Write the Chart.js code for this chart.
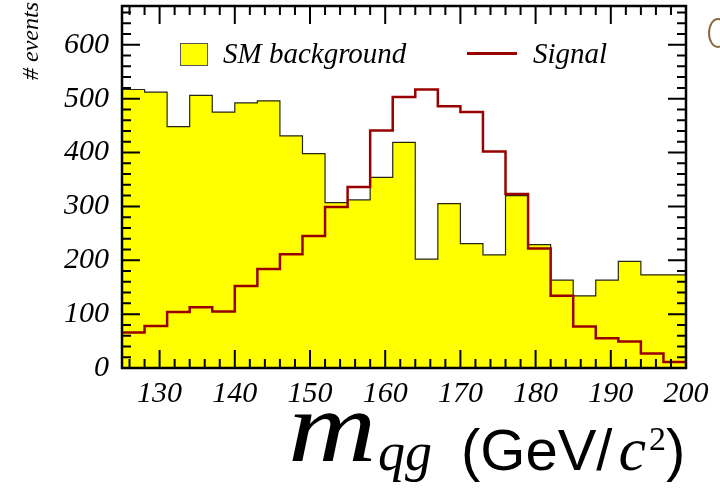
<!DOCTYPE html>
<html>
<head>
<meta charset="utf-8">
<script src="https://cdn.jsdelivr.net/npm/chart.js@4.4.0/dist/chart.umd.min.js"></script>
<style>
  html, body { margin: 0; padding: 0; background: #fff; }
  #wrap { position: relative; width: 720px; height: 491px; overflow: hidden; }
  #c { position: absolute; left: 0; top: 0; }
  .lab { position: absolute; font-family: "Liberation Serif", serif; font-style: italic; color: #000; white-space: nowrap; line-height: 1; }
  #ytitle { left: 30px; top: 41px; font-size: 24px; transform: translate(-50%, -50%) rotate(-90deg); }
  #leg1box { position: absolute; left: 180px; top: 43px; width: 26px; height: 21px; background: #ffff00; border: 1px solid #555; }
  #leg1 { left: 223px; top: 39px; font-size: 29px; }
  #leg2line { position: absolute; left: 467px; top: 52px; width: 50px; height: 2.5px; background: #990000; }
  #leg2 { left: 533px; top: 39px; font-size: 29px; }
  .xt { position: absolute; white-space: nowrap; color: #000; line-height: 1; }
  #xm { left: 288px; top: 376px; font-family: "Liberation Serif", serif; font-style: italic; font-size: 102px; transform: scaleX(1.2); transform-origin: left top; }
  #xqg { left: 378px; top: 425px; font-family: "Liberation Serif", serif; font-style: italic; font-size: 54px; }
  #xunit { left: 461px; top: 418px; font-family: "Liberation Sans", sans-serif; font-size: 58px; }
  #xunit .c { font-family: "Liberation Serif", serif; font-style: italic; font-size: 62px; margin: 0 3px 0 6px; }
  #xunit sup { font-family: "Liberation Serif", serif; font-size: 34px; line-height: 0; }
  #logo { position: absolute; left: 708px; top: 18px; width: 16px; height: 26px; border: 2px solid #8a6a3a; border-radius: 50%; }
</style>
</head>
<body>
<div id="wrap">
  <canvas id="c" width="720" height="491"></canvas>
  <div id="ytitle" class="lab"># events</div>
  <div id="leg1box"></div>
  <div id="leg1" class="lab">SM background</div>
  <div id="leg2line"></div>
  <div id="leg2" class="lab">Signal</div>
  <div id="xm" class="xt">m</div>
  <div id="xqg" class="xt">qg</div>
  <div id="xunit" class="xt">(GeV/<span class="c">c</span><sup>2</sup>)</div>
  <div id="logo"></div>
</div>
<script>
// bin edges in GeV/c^2 (25 bins)
const binEdges = [125, 128, 131, 134, 137, 140, 143, 146, 149, 152, 155, 158, 161, 164, 167, 170, 173, 176, 179, 182, 185, 188, 191, 194, 197, 200];
const background = [517, 512, 448, 506, 475, 492, 496, 431, 398, 307, 312, 354, 419, 202, 305, 231, 210, 320, 229, 163, 134, 163, 198, 173, 173];
const signal = [66, 78, 104, 113, 105, 152, 184, 211, 245, 299, 336, 441, 503, 517, 486, 475, 402, 323, 222, 134, 77, 55, 49, 27, 11];
const xMin = 125, xMax = 200, yMax = 672;

// histogram -> step points (last edge repeats last bin)
function toSteps(vals) {
  return binEdges.map((e, i) => ({ x: e, y: vals[Math.min(i, vals.length - 1)] }));
}

// ROOT style frame with ticks inside on all sides
const framePlugin = {
  id: 'frame',
  afterDraw(chart) {
    const ctx = chart.ctx;
    const a = chart.chartArea;
    const xs = chart.scales.x, ys = chart.scales.y;
    ctx.save();
    ctx.strokeStyle = '#000';
    ctx.lineWidth = 2;
    ctx.beginPath();
    for (let v = 126; v < xMax; v += 2) {
      const px = xs.getPixelForValue(v);
      const len = v % 10 === 0 ? 18 : 9;
      ctx.moveTo(px, a.bottom); ctx.lineTo(px, a.bottom - len);
      ctx.moveTo(px, a.top); ctx.lineTo(px, a.top + len);
    }
    for (let v = 20; v < yMax; v += 20) {
      const py = ys.getPixelForValue(v);
      const len = v % 100 === 0 ? 18 : 9;
      ctx.moveTo(a.left, py); ctx.lineTo(a.left + len, py);
      ctx.moveTo(a.right, py); ctx.lineTo(a.right - len, py);
    }
    ctx.stroke();
    ctx.lineWidth = 2.5;
    ctx.strokeRect(a.left, a.top, a.right - a.left, a.bottom - a.top);
    ctx.restore();
  }
};

const tickFont = { family: '"Liberation Serif", serif', style: 'italic', size: 30 };

new Chart(document.getElementById('c'), {
  type: 'line',
  data: {
    datasets: [
      {
        label: 'SM background',
        data: toSteps(background),
        stepped: 'before',
        borderColor: 'rgba(0,0,0,0.85)',
        borderWidth: 1.2,
        backgroundColor: '#ffff00',
        fill: 'origin',
        pointRadius: 0,
        order: 1
      },
      {
        label: 'Signal',
        data: toSteps(signal),
        stepped: 'before',
        borderColor: '#990000',
        borderWidth: 2.5,
        fill: false,
        pointRadius: 0,
        order: 0
      }
    ]
  },
  options: {
    responsive: false,
    animation: false,
    layout: { padding: { top: 6, right: 34, left: 0, bottom: 0 } },
    plugins: { legend: { display: false }, tooltip: { enabled: false } },
    scales: {
      x: {
        type: 'linear',
        min: xMin,
        max: xMax,
        grid: { display: false, drawTicks: false },
        border: { display: false },
        ticks: { stepSize: 10, includeBounds: false, padding: 8, color: '#000', font: tickFont, maxRotation: 0 },
        afterFit(s) { s.height = 123; s.paddingLeft = 0; s.paddingRight = 0; }
      },
      y: {
        min: 0,
        max: yMax,
        grid: { display: false, drawTicks: false },
        border: { display: false },
        ticks: { stepSize: 100, includeBounds: false, padding: 13, color: '#000', font: tickFont },
        afterFit(s) { s.width = 122; s.paddingTop = 0; s.paddingBottom = 0; }
      }
    }
  },
  plugins: [framePlugin]
});
</script>
</body>
</html>
